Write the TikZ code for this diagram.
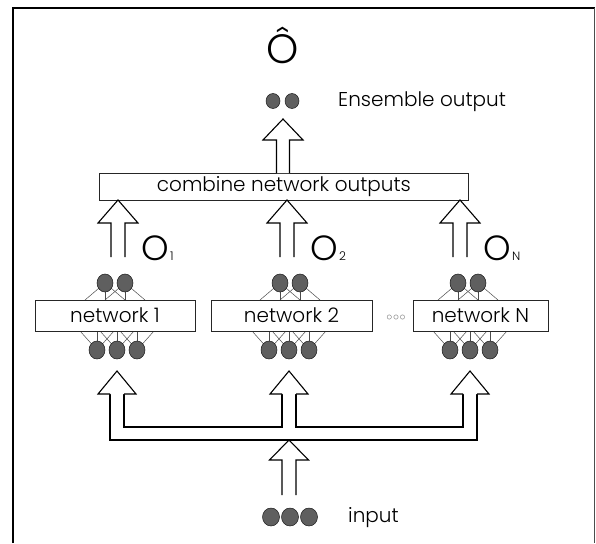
\documentclass[tikz,border=0pt]{standalone}
\usepackage{fontspec}
\usetikzlibrary{shapes.geometric}
\setmainfont{Poppins}[UprightFont=* Light]
\begin{document}
\begin{tikzpicture}[x=1pt,y=-1pt,
  dot/.style={ellipse,minimum width=16pt,minimum height=18pt,inner sep=0pt,fill={rgb,255:red,95;green,95;blue,95},draw=black!90,line width=0.5pt},
  sdot/.style={dot,minimum width=14pt,minimum height=15pt},
  netbox/.style={draw=black!85,line width=0.8pt,fill=white,minimum height=31pt,inner sep=0pt,font=\fontsize{20}{20}\selectfont},
  wire/.style={draw=black!70,line width=0.5pt},
  blk/.style={draw=black,line width=1.1pt,fill=white,line join=miter},
  lbl/.style={font=\fontsize{20}{20}\selectfont,inner sep=0pt},
  bigo/.style={inner sep=0pt,font=\fontsize{35}{35}\selectfont},
  sub/.style={inner sep=0pt,font=\fontsize{12}{12}\selectfont}]
\useasboundingbox (0,0) rectangle (596,543);
% frame
\draw[line width=2pt,black] (12.5,543) -- (12.5,8) -- (595,8);
\draw[line width=1.5pt,black!70] (594.5,8) -- (594.5,543);
\newcommand{\blockarrow}[6]{% x, ybottom, ytip, shaft half, head half, head length
  \draw[blk] (#1-#4,#2) -- (#1-#4,#3+#6) -- (#1-#5,#3+#6) -- (#1,#3) -- (#1+#5,#3+#6) -- (#1+#4,#3+#6) -- (#1+#4,#2);}
% top output
\node[inner sep=0pt,font=\fontsize{41}{41}\selectfont] (ohat) at (283,45) {Ô};
\node[sdot] (e1) at (273,101) {};
\node[sdot] (e2) at (292,101) {};
\node[lbl,anchor=west] (ens) at (338,102) {Ensemble output};
% combine box
\node[netbox,minimum width=369pt,minimum height=27pt,anchor=north west] (comb) at (99,173) {};
\node[lbl] (combt) at (comb.center) {combine network outputs};
\blockarrow{283}{173}{119}{6.5}{20}{21}
% arrows to combine box
\blockarrow{118}{257}{200}{7}{20}{23}
\blockarrow{287}{257}{200}{7}{20}{23}
\blockarrow{460}{257}{200}{7}{20}{23}
\node[bigo,anchor=south west] (o1) at (141,261) {O};
\node[sub,anchor=base west] (s1) at ([xshift=1pt]o1.base east) {1};
\node[bigo,anchor=south west] (o2) at (310,261) {O};
\node[sub,anchor=base west] (s2) at ([xshift=1pt]o2.base east) {2};
\node[bigo,anchor=south west] (oN) at (483,261) {O};
\node[sub,anchor=base west] (sN) at ([xshift=1pt]oN.base east) {N};
% network wiring
\foreach \tc/\bc in {115/117, 290/289, 468/470}{
  \foreach \dx in {-10,10}{
    \pgfmathsetmacro{\xx}{\tc+\dx}
    \draw[wire] (\xx,283) -- (\xx,300);
    \draw[wire] (\xx,283) -- (\xx-20,300);
    \draw[wire] (\xx,283) -- (\xx+20,300);
  }
  \foreach \dx in {-20,0,20}{
    \pgfmathsetmacro{\xx}{\bc+\dx}
    \draw[wire] (\xx,350) -- (\xx,331);
    \draw[wire] (\xx,350) -- (\xx-17,331);
    \draw[wire] (\xx,350) -- (\xx+17,331);
  }
}
% network boxes
\node[netbox,minimum width=160pt] (n1) at (115,315.5) {network 1};
\node[netbox,minimum width=161pt] (n2) at (291.5,315.5) {network 2};
\node[netbox,minimum width=135pt] (nN) at (480.5,315.5) {network N};
\node[inner sep=0pt,text=black!60,font=\fontsize{12}{12}\selectfont] (more) at (396,318) {$\circ\!\circ\!\circ$};
\foreach \nm/\tc/\bc in {n1/115/117, n2/290/289, nN/468/470}{
  \node[dot] (\nm ta) at (\tc-10,283) {};
  \node[dot] (\nm tb) at (\tc+10,283) {};
  \node[dot] (\nm ba) at (\bc-20,350) {};
  \node[dot] (\nm bb) at (\bc,350) {};
  \node[dot] (\nm bc) at (\bc+20,350) {};
}
% input bus
\draw[blk] (110,394) -- (110,440) -- (477,440) -- (477,394);
\draw[blk] (124,394) -- (124,427) -- (282,427) -- (282,394);
\draw[blk] (296,394) -- (296,427) -- (463,427) -- (463,394);
\draw[blk] (110,394) -- (98,394) -- (117,371) -- (136,394) -- (124,394);
\draw[blk] (282,394) -- (270,394) -- (289,371) -- (308,394) -- (296,394);
\draw[blk] (463,394) -- (451,394) -- (470,371) -- (489,394) -- (477,394);
\blockarrow{289}{495}{440}{7}{19.5}{20}
% input
\node[dot,minimum width=17pt,minimum height=18pt] (i1) at (271,517) {};
\node[dot,minimum width=17pt,minimum height=18pt] (i2) at (290,517) {};
\node[dot,minimum width=17pt,minimum height=18pt] (i3) at (309,517) {};
\node[lbl,anchor=west] (inp) at (348,518) {input};
\end{tikzpicture}
\end{document}
